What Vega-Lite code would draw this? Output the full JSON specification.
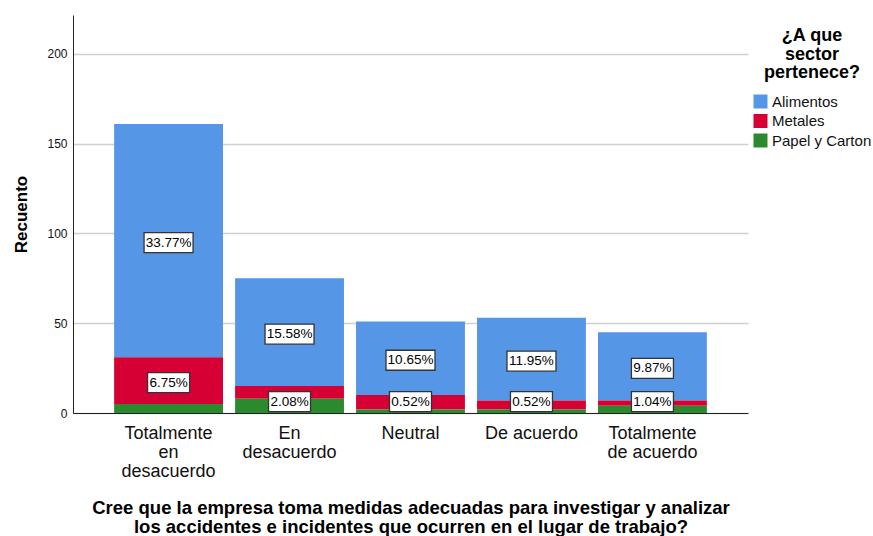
{
  "$schema": "https://vega.github.io/schema/vega-lite/v6.json",
  "width": 675,
  "height": 398,
  "autosize": {"type": "none"},
  "padding": {"left": 73, "top": 15, "right": 125, "bottom": 123},
  "background": "white",
  "config": {
    "font": "Liberation Sans",
    "view": {"stroke": null},
    "axisY": {
      "grid": true,
      "gridColor": "#d0d0d0",
      "gridWidth": 1.5,
      "ticks": false,
      "domainColor": "#222222",
      "labelFontSize": 12,
      "labelPadding": 6,
      "labelColor": "#111111",
      "titleFontSize": 17,
      "titleFontWeight": "bold",
      "titlePadding": 16,
      "titleColor": "#000000"
    }
  },
  "data": {
    "values": [
      {"category": "Totalmente en desacuerdo", "sector": "Alimentos", "count": 130, "label": "33.77%"},
      {"category": "Totalmente en desacuerdo", "sector": "Metales", "count": 26, "label": "6.75%"},
      {"category": "Totalmente en desacuerdo", "sector": "Papel y Carton", "count": 5, "label": ""},
      {"category": "En desacuerdo", "sector": "Alimentos", "count": 60, "label": "15.58%"},
      {"category": "En desacuerdo", "sector": "Metales", "count": 7, "label": ""},
      {"category": "En desacuerdo", "sector": "Papel y Carton", "count": 8, "label": "2.08%"},
      {"category": "Neutral", "sector": "Alimentos", "count": 41, "label": "10.65%"},
      {"category": "Neutral", "sector": "Metales", "count": 8, "label": ""},
      {"category": "Neutral", "sector": "Papel y Carton", "count": 2, "label": "0.52%"},
      {"category": "De acuerdo", "sector": "Alimentos", "count": 46, "label": "11.95%"},
      {"category": "De acuerdo", "sector": "Metales", "count": 5, "label": ""},
      {"category": "De acuerdo", "sector": "Papel y Carton", "count": 2, "label": "0.52%"},
      {"category": "Totalmente de acuerdo", "sector": "Alimentos", "count": 38, "label": "9.87%"},
      {"category": "Totalmente de acuerdo", "sector": "Metales", "count": 3, "label": ""},
      {"category": "Totalmente de acuerdo", "sector": "Papel y Carton", "count": 4, "label": "1.04%"}
    ]
  },
  "transform": [
    {"stack": "count", "groupby": ["category"], "sort": [{"field": "sector", "order": "descending"}], "as": ["y0", "y1"]},
    {"calculate": "max((datum.y0 + datum.y1) / 2, 7.5)", "as": "mid"}
  ],
  "encoding": {
    "x": {
      "field": "category",
      "type": "nominal",
      "sort": ["Totalmente en desacuerdo", "En desacuerdo", "Neutral", "De acuerdo", "Totalmente de acuerdo"],
      "scale": {"paddingInner": 0.1, "paddingOuter": 0.34},
      "title": ["Cree que la empresa toma medidas adecuadas para investigar y analizar", "los accidentes e incidentes que ocurren en el lugar de trabajo?"],
      "axis": {
        "labelAngle": 0,
        "labelFontSize": 18,
        "labelLineHeight": 19,
        "labelPadding": 11,
        "labelColor": "#111111",
        "labelExpr": "datum.value == 'Totalmente en desacuerdo' ? ['Totalmente','en','desacuerdo'] : datum.value == 'En desacuerdo' ? ['En','desacuerdo'] : datum.value == 'Totalmente de acuerdo' ? ['Totalmente','de acuerdo'] : datum.value",
        "ticks": false,
        "domainColor": "#222222",
        "domainWidth": 1,
        "titleFontSize": 18.5,
        "titleFontWeight": "bold",
        "titleLineHeight": 19,
        "titlePadding": 18,
        "titleColor": "#000000"
      }
    },
    "y": {
      "field": "y1",
      "type": "quantitative",
      "scale": {"domain": [0, 221.7], "nice": false},
      "title": "Recuento",
      "axis": {"values": [0, 50, 100, 150, 200]}
    }
  },
  "layer": [
    {
      "mark": {"type": "bar"},
      "encoding": {
        "y2": {"field": "y0"},
        "color": {
          "field": "sector",
          "type": "nominal",
          "scale": {"domain": ["Alimentos", "Metales", "Papel y Carton"], "range": ["#5596E6", "#D70035", "#2B8A2E"]},
          "legend": {
            "orient": "none",
            "legendX": 680,
            "legendY": 12,
            "title": ["¿A que", "sector", "pertenece?"],
            "titleFontSize": 18,
            "titleFontWeight": "bold",
            "titleAlign": "center",
            "titleAnchor": "middle",
            "titleLineHeight": 18.5,
            "titlePadding": 12,
            "titleColor": "#000000",
            "labelFontSize": 15,
            "labelColor": "#111111",
            "labelOffset": 4,
            "symbolType": "square",
            "symbolSize": 196,
            "symbolStrokeWidth": 0,
            "symbolOpacity": 1,
            "rowPadding": 3.5,
            "padding": 0
          }
        }
      }
    },
    {
      "transform": [{"filter": "length(datum.label) == 6"}],
      "mark": {"type": "point", "shape": "M-1,-0.408H1V0.408H-1Z", "size": 2401, "filled": true, "fill": "white", "stroke": "#333333", "strokeWidth": 1.3, "opacity": 1, "yOffset": 2},
      "encoding": {
        "y": {"field": "mid", "type": "quantitative", "title": "Recuento"}
      }
    },
    {
      "transform": [{"filter": "length(datum.label) == 5"}],
      "mark": {"type": "point", "shape": "M-1,-0.476H1V0.476H-1Z", "size": 1764, "filled": true, "fill": "white", "stroke": "#333333", "strokeWidth": 1.3, "opacity": 1, "yOffset": 2},
      "encoding": {
        "y": {"field": "mid", "type": "quantitative", "title": "Recuento"}
      }
    },
    {
      "transform": [{"filter": "length(datum.label) > 0"}],
      "mark": {"type": "text", "fontSize": 13.5, "color": "#000000", "baseline": "middle", "align": "center", "yOffset": 2},
      "encoding": {
        "y": {"field": "mid", "type": "quantitative", "title": "Recuento"},
        "text": {"field": "label"}
      }
    }
  ]
}
